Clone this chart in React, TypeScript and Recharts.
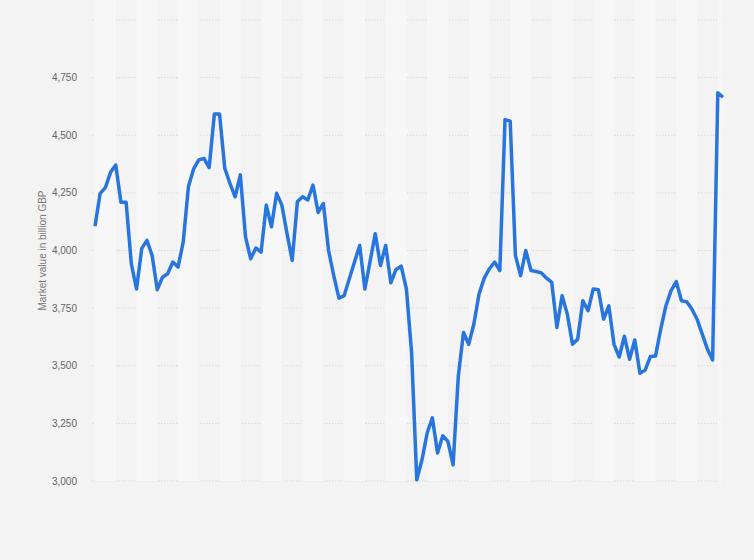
import { LineChart, Line, XAxis, YAxis, CartesianGrid, ReferenceArea } from 'recharts';

// market value in billion GBP, one point per period (122 periods)
const values = [
  4105, 4248, 4273, 4339, 4371, 4209, 4209, 3942, 3833, 4008,
  4044, 3979, 3830, 3884, 3899, 3950, 3928, 4037, 4277, 4354,
  4393, 4400, 4360, 4592, 4592, 4357, 4291, 4233, 4328, 4059,
  3964, 4011, 3993, 4197, 4103, 4248, 4197, 4073, 3957, 4212,
  4233, 4219, 4284, 4165, 4204, 4000, 3891, 3793, 3804, 3877,
  3950, 4022, 3833, 3953, 4073, 3935, 4022, 3860, 3918, 3932,
  3833, 3557, 3005, 3092, 3208, 3274, 3121, 3196, 3172, 3070,
  3455, 3644, 3593, 3681, 3812, 3880, 3921, 3950, 3913, 4568,
  4561, 3979, 3891, 4000, 3913, 3909, 3903, 3880, 3862, 3666,
  3804, 3724, 3593, 3615, 3782, 3739, 3833, 3830, 3702, 3760,
  3593, 3538, 3628, 3528, 3612, 3467, 3481, 3540, 3542, 3659,
  3760, 3826, 3865, 3782, 3778, 3746, 3702, 3637, 3572, 3525,
  4684, 4665,
];

const yTicks = [3000, 3250, 3500, 3750, 4000, 4250, 4500, 4750, 5000];

// alternating background columns, each spanning four periods
const bandStarts = [0, 8, 16, 24, 32, 40, 48, 56, 64, 72, 80, 88, 96, 104, 112, 120];

const data = values.map((value, idx) => ({ idx, value }));
const lastIdx = values.length - 1;

export default function App() {
  return (
    <div
      style={{
        position: 'absolute',
        left: 0,
        top: 0,
        width: 754,
        height: 560,
        background: '#f3f3f3',
        fontFamily: '"Liberation Sans", Arial, sans-serif',
      }}
    >
      <LineChart width={754} height={560} data={data} margin={{ top: 20, right: 30, bottom: 79, left: 0 }}>
        {bandStarts.map((s) => (
          <ReferenceArea
            key={s}
            x1={s}
            x2={Math.min(s + 4, lastIdx)}
            y1={3000}
            y2={5090}
            ifOverflow="visible"
            fill="#f7f7f7"
            fillOpacity={1}
            stroke="none"
          />
        ))}
        <CartesianGrid vertical={false} stroke="#d9d9d9" strokeDasharray="1.5 1.5" />
        <XAxis dataKey="idx" type="number" domain={[0, lastIdx]} hide padding={{ left: 3, right: 1 }} />
        <YAxis
          width={92}
          domain={[3000, 5000]}
          ticks={yTicks}
          interval={0}
          axisLine={false}
          tickLine={false}
          tickSize={0}
          tickMargin={15}
          tick={{ fill: '#666666', fontSize: 10 }}
          tickFormatter={(v: number) => (v === 5000 ? '' : v.toLocaleString('en-US'))}
          label={{
            value: 'Market value in billion GBP',
            angle: -90,
            position: 'insideLeft',
            dx: 37,
            style: { textAnchor: 'middle', fill: '#777777', fontSize: 10 },
          }}
        />
        <Line
          type="linear"
          dataKey="value"
          stroke="#2876dd"
          strokeWidth={3.5}
          strokeLinejoin="round"
          dot={false}
          activeDot={false}
          isAnimationActive={false}
        />
      </LineChart>
    </div>
  );
}
